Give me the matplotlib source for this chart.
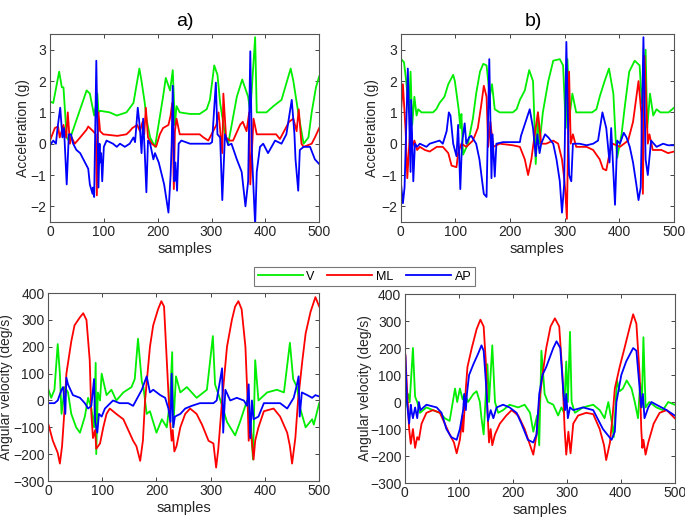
import matplotlib
matplotlib.use("Agg")
import matplotlib.pyplot as plt

plt.rcParams['font.family'] = ['Liberation Sans', 'DejaVu Sans']

# ---------------- a) acceleration ----------------
a_acc_V_x = [0,6,17,22,25,31,35,40,68,74,82,85,88,90,93,111,124,142,155,166,170,176,179,186,195,210,215,223,228,232,235,241,260,278,291,297,305,311,316,325,331,347,357,368,372,381,384,402,415,430,447,452,461,467,471,480,486,494,500]
a_acc_V_y = [1.35,1.3,2.3,1.8,1.8,0.2,0.1,0.3,1.7,1.6,0.9,1.2,1.6,1.0,1.05,1.0,0.9,1.0,1.3,2.4,2.0,1.3,0.8,0.2,-0.1,1.5,2.1,1.7,2.35,0.6,1.2,1.0,0.95,0.95,1.1,1.4,2.5,2.2,1.3,0.3,0.0,1.5,2.05,1.5,1.0,3.4,1.0,1.0,1.2,1.4,2.4,2.0,1.0,0.4,0.0,0.2,1.0,1.8,2.15]

a_acc_ML_x = [0,9,15,18,25,30,33,37,40,46,56,68,71,80,85,87,89,90,93,99,125,142,148,153,162,167,172,175,178,182,189,197,204,210,220,224,227,230,232,235,241,260,278,285,294,309,313,320,322,327,334,340,353,358,365,370,372,378,384,390,420,427,444,452,458,462,467,471,486,492,500]
a_acc_ML_y = [0.1,0.5,0.55,0.2,0.6,0.2,1.0,0.0,0.2,0.0,0.2,0.45,0.55,0.4,0.3,-1.65,0.3,1.0,0.4,0.3,0.25,0.3,0.4,0.5,0.6,0.4,0.7,0.3,1.15,0.2,0.0,-0.1,0.3,0.5,0.6,0.9,1.3,-1.45,0.4,0.8,0.3,0.3,0.3,0.2,0.1,0.6,1.0,-0.3,1.6,0.2,0.1,0.1,0.6,0.7,0.4,1.0,-1.3,0.8,0.3,0.3,0.3,0.15,0.7,0.8,0.4,1.1,0.0,-0.1,0.0,0.2,0.5]

a_acc_AP_x = [0,6,11,14,19,23,26,31,35,39,43,49,56,62,71,74,79,80,82,86,90,92,93,95,97,100,105,117,124,130,139,148,155,158,163,167,170,173,176,179,182,186,192,195,202,212,220,224,226,228,231,233,236,239,244,260,297,301,308,311,316,320,325,331,337,347,356,363,368,372,375,381,384,387,390,396,405,418,430,439,449,454,456,461,464,471,483,492,500]
a_acc_AP_y = [-0.05,0.1,0.0,0.5,1.15,0.2,0.5,-1.3,0.3,0.3,0.0,-0.2,-0.3,-0.5,-0.8,-1.3,-1.6,-1.4,-1.7,2.65,-1.4,0.0,-0.6,-0.3,-1.2,-0.1,0.1,0.0,-0.1,0.0,-0.1,0.0,0.2,0.05,1.15,0.5,-0.3,0.8,-0.3,-1.55,0.1,0.0,-0.5,-0.3,-0.6,-1.3,-2.2,-1.0,0.0,1.85,-1.2,-0.6,-1.5,0.0,0.1,0.0,0.0,0.05,1.95,0.3,0.2,-1.8,0.3,-0.05,0.0,-0.5,-0.9,-2.0,-1.2,2.95,-0.3,-2.6,-0.9,-0.5,-0.1,0.0,-0.3,0.1,0.0,0.3,1.4,0.3,-0.5,-1.5,-0.2,-0.1,-0.1,-0.5,-0.65]

# ---------------- b) acceleration ----------------
b_acc_V_x = [1,6,10,15,18,21,25,29,32,38,59,65,71,80,87,96,99,106,109,111,114,123,132,138,145,151,157,163,167,172,181,205,212,218,227,235,242,244,247,251,254,260,270,279,291,297,302,305,309,314,321,350,358,364,373,381,389,393,396,404,410,418,428,437,441,448,451,456,462,468,475,490,500]
b_acc_V_y = [2.7,2.6,2.0,1.0,2.3,0.6,1.5,0.9,1.1,1.0,1.0,1.1,1.3,1.5,1.9,2.2,2.0,1.1,0.5,0.95,-0.35,0.0,0.8,1.6,2.3,2.55,2.5,1.5,1.9,1.1,1.0,1.0,1.1,1.4,1.7,2.35,2.0,1.0,-0.65,1.0,0.0,1.0,2.0,2.65,2.7,2.5,0.5,2.7,0.9,1.6,1.0,1.0,1.1,1.5,2.0,2.4,1.6,0.2,-0.45,0.3,1.2,2.3,2.65,2.5,1.3,3.0,0.5,1.6,0.9,1.1,1.0,1.0,1.15]

b_acc_ML_x = [0,4,9,12,16,18,21,25,30,35,44,53,66,77,87,93,102,105,111,120,132,141,147,152,157,160,164,169,181,205,218,227,233,239,242,251,257,266,279,288,295,299,301,304,308,311,315,321,340,352,364,370,376,382,388,401,416,425,435,440,443,446,452,455,461,477,489,500]
b_acc_ML_y = [0.9,1.9,0.4,-1.1,0.1,0.7,-0.1,0.1,-0.2,-0.1,-0.2,-0.25,-0.1,-0.1,-0.3,-0.7,-0.75,-0.3,0.0,-0.1,0.1,0.5,1.2,1.85,1.5,-0.1,0.7,-0.1,0.0,-0.05,-0.1,-0.5,-1.0,-0.5,-0.1,1.0,0.0,0.0,0.1,0.0,-0.5,-1.1,-1.5,-2.4,2.3,0.0,0.3,-0.1,-0.1,-0.2,-0.5,-0.8,-0.85,-0.3,0.0,-0.1,0.1,0.7,2.0,1.0,-1.6,2.8,0.0,0.3,-0.2,-0.2,-0.3,-0.25]

b_acc_AP_x = [1,4,7,13,18,19,23,26,30,35,47,53,71,77,84,88,91,96,102,105,109,112,117,120,125,129,138,144,149,152,157,162,166,168,172,175,187,218,220,236,242,247,250,254,257,264,270,279,285,291,295,299,303,308,312,315,327,340,352,361,369,376,382,385,392,396,401,408,413,419,425,431,435,439,444,448,452,458,468,480,489,500]
b_acc_AP_y = [-1.35,-1.9,-1.4,2.4,-0.9,1.4,-1.2,0.0,-0.1,0.0,-0.1,0.0,0.1,0.0,0.4,1.0,0.9,0.0,-0.4,0.6,-1.45,0.0,0.65,0.0,0.2,0.25,0.0,-0.5,-1.2,-1.6,-1.7,2.7,-1.1,0.3,-1.05,0.0,0.05,0.05,0.25,1.1,0.5,-0.4,0.3,-0.3,0.0,0.3,0.2,0.0,-0.5,-1.2,-2.2,-1.3,3.25,-1.0,-1.2,0.0,0.0,-0.05,0.0,0.1,1.0,0.5,-0.6,0.5,-1.95,0.1,0.0,0.35,0.2,-0.1,-0.6,-1.3,-1.8,-1.4,3.4,-0.5,-1.0,0.1,-0.1,0.0,-0.05,-0.05]

# ---------------- a) angular velocity ----------------
a_gyr_V_x = [1,6,12,18,22,25,28,31,37,43,52,59,68,74,80,85,88,89,92,96,99,108,117,126,139,154,160,166,173,176,182,188,200,210,219,225,229,231,236,244,256,274,293,304,308,318,330,345,354,367,374,378,382,388,404,422,435,446,452,459,465,475,487,490,500]
a_gyr_V_y = [40,10,40,210,100,-50,0,50,30,-50,-100,-120,-60,10,-30,-100,140,-200,30,0,100,20,40,0,30,50,80,230,70,50,-50,-40,-120,-70,-100,0,180,-100,90,30,50,10,40,240,60,0,-80,-130,-80,0,-100,-220,150,0,30,40,30,215,80,50,-30,-100,-70,-90,-10]

a_gyr_ML_x = [1,9,15,18,22,26,30,34,43,49,59,65,71,77,80,83,87,89,96,102,108,114,126,139,148,157,163,170,175,179,188,194,203,209,214,219,224,228,230,233,237,244,253,262,274,284,296,305,310,314,321,330,339,345,351,357,364,368,370,373,379,382,388,398,416,428,441,446,450,456,461,469,475,484,493,500]
a_gyr_ML_y = [-90,-150,-180,-195,-235,-170,-50,100,220,280,310,325,300,150,-50,-140,-110,-180,-160,-100,-50,-30,-50,-70,-110,-150,-170,-225,-150,0,200,280,340,370,350,150,-50,-150,-110,-190,-170,-100,-50,-30,-50,-90,-150,-160,-250,-180,0,200,300,350,370,340,200,0,-150,-90,-220,-150,-100,-40,-30,-60,-120,-170,-235,-140,0,150,250,330,385,350]

a_gyr_AP_x = [1,12,18,25,28,32,34,37,46,59,68,74,80,85,87,91,94,99,105,120,132,148,157,173,182,188,194,207,216,222,226,228,231,234,244,253,265,280,305,311,321,323,327,336,348,361,367,370,373,376,379,388,398,428,441,453,459,462,464,468,478,487,493,500]
a_gyr_AP_y = [-10,-10,0,40,50,-50,85,60,20,10,-10,-30,-20,80,-80,-120,-50,-60,-30,0,-10,-10,-20,40,90,30,40,20,10,-30,-80,100,-100,-60,-50,-30,-20,-10,-10,0,120,-120,40,0,10,0,-20,60,-140,0,-70,-60,-10,-10,-30,10,60,90,-60,30,20,10,20,15]

# ---------------- b) angular velocity ----------------
b_gyr_V_x = [1,6,9,15,19,23,28,40,52,65,74,83,93,97,102,107,111,117,127,133,139,142,146,153,156,162,167,173,182,194,210,222,232,238,245,249,253,259,265,275,284,290,295,299,302,306,309,315,330,349,361,370,377,383,387,393,398,404,411,420,426,432,436,439,442,446,453,466,478,488,500]
b_gyr_V_y = [-20,30,0,200,20,0,-40,-20,-30,-40,-60,-70,50,0,50,10,30,0,30,40,0,-60,-120,140,0,210,0,-40,-30,-10,-20,-10,-40,-110,-50,-160,190,30,0,-10,-50,-20,-40,150,0,260,0,-40,-20,-10,-30,-60,0,-70,-130,80,40,50,80,50,0,-60,70,-20,240,-20,0,-20,-30,0,-10]

b_gyr_ML_x = [1,4,8,11,15,19,23,26,31,40,52,65,74,83,91,96,102,107,108,113,116,124,133,140,146,150,153,156,159,162,167,176,188,198,210,222,232,238,244,249,255,262,270,278,286,292,296,299,303,307,312,321,336,349,361,369,373,380,385,389,398,407,417,423,429,435,438,440,442,446,451,461,472,485,500]
b_gyr_ML_y = [175,50,-100,-155,-100,-170,-130,-140,-80,-40,-30,-40,-80,-120,-150,-190,-140,-50,-110,50,130,200,270,305,280,150,-30,-150,-100,-160,-120,-80,-50,-30,-50,-100,-160,-195,-120,0,100,200,280,310,280,100,-100,-195,-110,-190,-80,-50,-40,-45,-100,-160,-215,-150,-50,50,130,200,280,325,290,100,-100,-170,-140,-195,-150,-80,-40,-30,-60]

b_gyr_AP_x = [1,4,8,11,13,15,19,23,26,29,40,59,68,77,86,96,102,108,110,113,115,119,127,136,142,146,151,154,159,164,170,182,194,207,216,228,238,244,249,255,262,275,281,288,294,297,299,302,306,312,330,349,367,383,389,392,401,410,423,429,435,438,441,444,451,457,466,485,500]
b_gyr_AP_y = [170,0,-80,-10,-40,-60,-20,-60,0,-30,-10,-20,-40,-100,-130,-140,-100,-30,30,-30,30,100,140,180,210,190,50,-70,-30,-60,-20,-10,-20,-40,-80,-140,-150,-120,30,100,130,200,225,200,30,-30,30,-60,-20,-30,-20,-30,-100,-140,-110,0,100,150,200,190,50,-20,30,-60,-20,0,-10,-30,-50]

colors = {'V': '#00ee00', 'ML': '#ff0000', 'AP': '#0000ff'}
lw = 1.3

fig = plt.figure(figsize=(6.85, 5.22), dpi=100)
ax_tl = fig.add_axes([0.073, 0.5747, 0.393, 0.360])
ax_tr = fig.add_axes([0.585, 0.5747, 0.399, 0.360])
ax_bl = fig.add_axes([0.070, 0.0785, 0.396, 0.360])
ax_br = fig.add_axes([0.591, 0.0747, 0.394, 0.362])

def style(ax, ylim, yticks, ylabel, label_x):
    ax.set_xlim(0, 500)
    ax.set_ylim(*ylim)
    ax.set_xticks([0, 100, 200, 300, 400, 500])
    ax.set_yticks(yticks)
    ax.tick_params(direction='in', top=True, right=True, length=3, pad=2.5,
                   labelsize=10, colors='#262626', width=0.6)
    for s in ax.spines.values():
        s.set_color('#555555')
        s.set_linewidth(0.8)
    ax.set_xlabel('samples', fontsize=10.5, color='#262626', labelpad=2)
    ax.set_ylabel(ylabel, fontsize=10, color='#262626')
    ax.yaxis.set_label_coords(label_x, 0.5)

for ax, V, ML, AP in [
    (ax_tl, (a_acc_V_x, a_acc_V_y), (a_acc_ML_x, a_acc_ML_y), (a_acc_AP_x, a_acc_AP_y)),
    (ax_tr, (b_acc_V_x, b_acc_V_y), (b_acc_ML_x, b_acc_ML_y), (b_acc_AP_x, b_acc_AP_y)),
    (ax_bl, (a_gyr_V_x, a_gyr_V_y), (a_gyr_ML_x, a_gyr_ML_y), (a_gyr_AP_x, a_gyr_AP_y)),
    (ax_br, (b_gyr_V_x, b_gyr_V_y), (b_gyr_ML_x, b_gyr_ML_y), (b_gyr_AP_x, b_gyr_AP_y)),
]:
    ax.plot(*V, color=colors['V'], lw=lw, label='V')
    ax.plot(*ML, color=colors['ML'], lw=lw, label='ML')
    ax.plot(*AP, color=colors['AP'], lw=lw, label='AP')

style(ax_tl, (-2.5, 3.5), [-2, -1, 0, 1, 2, 3], 'Acceleration (g)', -0.074)
style(ax_tr, (-2.5, 3.5), [-2, -1, 0, 1, 2, 3], 'Acceleration (g)', -0.081)
style(ax_bl, (-300, 400), [-300, -200, -100, 0, 100, 200, 300, 400], 'Angular velocity (deg/s)', -0.128)
style(ax_br, (-300, 400), [-300, -200, -100, 0, 100, 200, 300, 400], 'Angular velocity (deg/s)', -0.122)

fig.text(0.27, 0.975, 'a)', fontsize=14, ha='center', va='top')
fig.text(0.778, 0.975, 'b)', fontsize=14, ha='center', va='top')

handles, labels = ax_tl.get_legend_handles_labels()
leg = fig.legend(handles, labels, loc='center', bbox_to_anchor=(0.532, 0.470),
                 ncol=3, fontsize=9, frameon=True, fancybox=False,
                 handlelength=3.6, handletextpad=0.3, columnspacing=1.0,
                 borderpad=0.3, edgecolor='#555555')
leg.get_frame().set_linewidth(0.8)

fig.savefig('out.png', dpi=100)
